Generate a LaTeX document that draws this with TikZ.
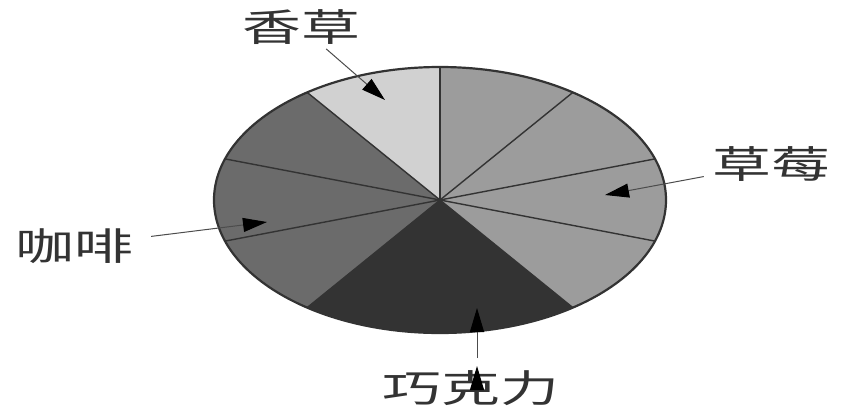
\documentclass[tikz,border=0pt]{standalone}
\usepackage{fontspec}
\newfontfamily\cjk{Noto Sans CJK SC}
\usetikzlibrary{arrows.meta}

\definecolor{vanillaGray}{gray}{0.82}
\definecolor{coffeeGray}{gray}{0.42}
\definecolor{chocoGray}{gray}{0.20}
\definecolor{berryGray}{gray}{0.61}

\newcommand{\widetext}[1]{\scalebox{1.55}[1]{#1}}

\begin{document}
\begin{tikzpicture}[x=0.5pt, y=0.5pt,
    flavor/.style={font=\cjk\fontsize{19}{19}\selectfont, text=black!80, inner sep=2pt},
    pointer/.style={draw=black!70, line width=0.5pt, -{Triangle[length=12pt, width=7pt, color=black]}},
    spoke/.style={draw=black!80, line width=0.7pt}]

    \useasboundingbox (0,0) rectangle (845,408);
    \coordinate (c) at (440,208);

    % pie slices
    \foreach \from/\to/\col in {90/126/vanillaGray, 126/234/coffeeGray, 234/306/chocoGray, 306/450/berryGray}
        \fill[\col] (c) -- ++(\from:226 and 133) arc[start angle=\from, end angle=\to, x radius=226, y radius=133] -- cycle;

    \foreach \a in {18,54,...,342}
        \draw[spoke] (c) -- ++(\a:226 and 133);
    \draw[draw=black!80, line width=1.1pt] (c) ellipse [x radius=226, y radius=133];

    \node[flavor] (vanilla) at (301,381) {\widetext{香草}};
    \node[flavor] (berry) at (771,244) {\widetext{草莓}};
    \node[flavor] (coffee) at (74,162) {\widetext{咖啡}};
    \node[flavor] (choco) at (471,20) {\widetext{巧克力}};

    \coordinate (vanillatip) at (385,308);
    \coordinate (berrytip) at (605,213);
    \coordinate (coffeetip) at (267,186);
    \coordinate (chocotip) at (477,100);

    \path[pointer] (vanilla) edge (vanillatip);
    \path[pointer] (berry) edge[shorten <=2pt] (berrytip);
    \path[pointer] (coffee) edge[shorten <=7pt] (coffeetip);
    \path[pointer] (choco.north -| chocotip) edge[shorten <=4pt] (chocotip);

\end{tikzpicture}
\end{document}
